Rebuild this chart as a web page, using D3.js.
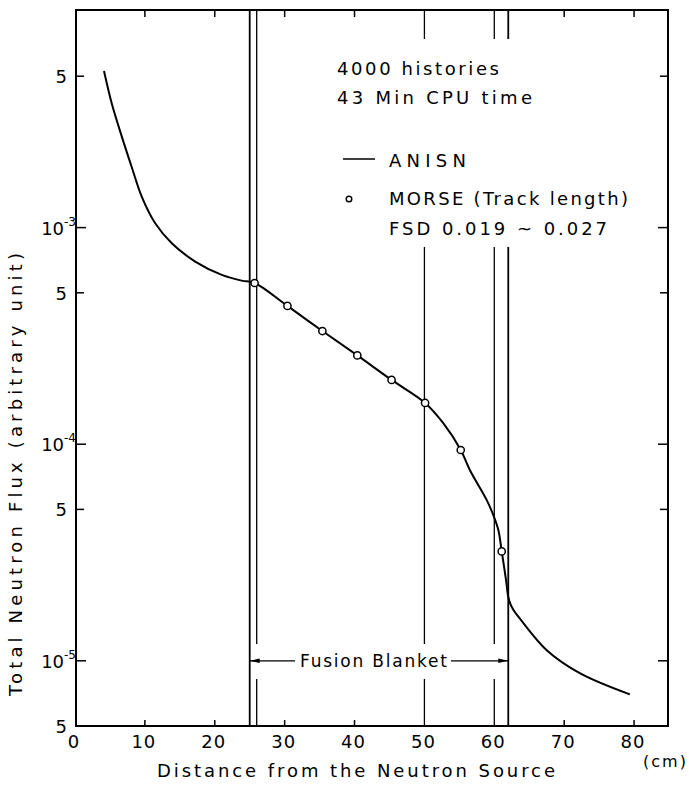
<!DOCTYPE html>
<html><head><meta charset="utf-8">
<script src="https://cdn.jsdelivr.net/npm/d3@7"></script>
<style>body{margin:0;background:#fff} svg{display:block} text{font-family:"DejaVu Sans",sans-serif;fill:#000}</style>
</head><body><svg id="c" width="689" height="790"></svg>
<script>
// ---- data ----
const anisnDistance = [4.15, 5.25, 6.7, 8.1, 9.55, 11.45, 13.85, 17.2, 21.0, 23.85, 25.7, 30.4, 35.4, 40.4, 45.3, 50.1, 52.7, 55.2, 56.5, 58.9, 59.86, 60.58, 61.06, 61.68, 62.0, 62.3, 62.72, 63.7, 67.5, 72.3, 79.4];
const anisnFlux = [5.28e-3, 3.75e-3, 2.63e-3, 1.91e-3, 1.39e-3, 1.05e-3, 8.47e-4, 6.97e-4, 6.05e-4, 5.69e-4, 5.55e-4, 4.35e-4, 3.33e-4, 2.57e-4, 1.98e-4, 1.55e-4, 1.25e-4, 9.4e-5, 7.6e-5, 5.53e-5, 4.71e-5, 4.02e-5, 3.2e-5, 2.36e-5, 1.97e-5, 1.83e-5, 1.72e-5, 1.56e-5, 1.12e-5, 8.75e-6, 7.0e-6];
const morseDistance = [25.7, 30.4, 35.4, 40.4, 45.3, 50.1, 55.2, 61.06];
const morseFlux = [5.55e-4, 4.35e-4, 3.33e-4, 2.57e-4, 1.98e-4, 1.55e-4, 9.4e-5, 3.2e-5];
const xTicks = [0, 10, 20, 30, 40, 50, 60, 70, 80];
const yTickValues = [5e-3, 1e-3, 5e-4, 1e-4, 5e-5, 1e-5, 5e-6];
const yTickMain = ["5", "10", "5", "10", "5", "10", "5"];
const yTickSup = ["", "-3", "", "-4", "", "-5", ""];
const boundaries = [25, 26, 50, 60, 62];
const blanketRange = [25, 62];
const blanketLevel = 1e-5;
const blanketLabel = "Fusion Blanket";
const infoLines = ["4000 histories", "43 Min CPU time"];
const legendLabels = ["ANISN", "MORSE (Track length)", "FSD 0.019 ~ 0.027"];
const xTitle = "Distance from the Neutron Source";
const xUnit = "(cm)";
const yTitle = "Total Neutron Flux  (arbitrary unit)";

// ---- drawing ----
const svg = d3.select("#c");
const x = d3.scaleLinear().domain([0, 85]).range([75, 669]);
const y = d3.scaleLog().domain([5e-6, 1e-2]).range([726, 11]);
const L = 76, R = 668, T = 10, B = 726;

function txt(xp, yp, s, size, opts = {}) {
  const t = svg.append("text").attr("x", xp).attr("y", yp).attr("font-size", size).text(s);
  if (opts.anchor) t.attr("text-anchor", opts.anchor);
  if (opts.len) t.attr("textLength", opts.len).attr("lengthAdjust", "spacing");
  if (opts.ls) t.attr("letter-spacing", opts.ls);
  return t;
}

// vertical boundary lines with gaps
const topGap = [39, 247], fusionGap = [644, 679];
boundaries.forEach(d => {
  let segs = [[T, B]];
  const cut = (g) => {
    const out = [];
    segs.forEach(([a, b]) => {
      if (g[1] <= a || g[0] >= b) out.push([a, b]);
      else { if (g[0] > a) out.push([a, g[0]]); if (g[1] < b) out.push([g[1], b]); }
    });
    segs = out;
  };
  if (d >= 50) cut(topGap);
  if (d > blanketRange[0] && d < blanketRange[1]) cut(fusionGap);
  segs.forEach(([a, b]) => svg.append("line").attr("x1", x(d)).attr("x2", x(d)).attr("y1", a).attr("y2", b)
    .attr("stroke", "#000").attr("stroke-width", d === 25 || d === 62 ? 1.8 : 1.3));
});

// frame
svg.append("rect").attr("x", L).attr("y", T).attr("width", R - L).attr("height", B - T)
  .attr("fill", "none").attr("stroke", "#000").attr("stroke-width", 2);

// x ticks
xTicks.filter(v => v > 0).forEach(v => {
  if (boundaries.includes(v)) return;
  svg.append("line").attr("x1", x(v)).attr("x2", x(v)).attr("y1", B).attr("y2", B - 6).attr("stroke", "#000").attr("stroke-width", 1.5);
  svg.append("line").attr("x1", x(v)).attr("x2", x(v)).attr("y1", T).attr("y2", T + 7).attr("stroke", "#000").attr("stroke-width", 1.5);
});
xTicks.forEach(v => txt(x(v) - 1, 748, String(v), 18, { anchor: "middle", ls: 1 }));

// y ticks
yTickValues.forEach((v, i) => {
  if (v <= 5e-6) return;
  const len = yTickSup[i] ? 10 : 8;
  svg.append("line").attr("x1", L).attr("x2", L + len).attr("y1", y(v)).attr("y2", y(v)).attr("stroke", "#000").attr("stroke-width", 1.5);
  svg.append("line").attr("x1", R).attr("x2", R - len).attr("y1", y(v)).attr("y2", y(v)).attr("stroke", "#000").attr("stroke-width", 1.5);
});
yTickValues.forEach((v, i) => {
  if (yTickSup[i]) {
    const t = svg.append("text").attr("x", 76).attr("y", y(v) + 7).attr("text-anchor", "end").attr("font-size", 18);
    t.append("tspan").text(yTickMain[i]);
    t.append("tspan").attr("font-size", 12).attr("dy", -9).text(yTickSup[i]);
  } else {
    txt(67, y(v) + 7, yTickMain[i], 18, { anchor: "end" });
  }
});

// ANISN curve
const pts = anisnDistance.map((d, i) => [x(d), y(anisnFlux[i])]);
svg.append("path").attr("d", d3.line().curve(d3.curveCatmullRom.alpha(0.5))(pts))
  .attr("fill", "none").attr("stroke", "#000").attr("stroke-width", 2);

// MORSE markers
morseDistance.forEach((d, i) => {
  svg.append("circle").attr("cx", x(d)).attr("cy", y(morseFlux[i])).attr("r", 3.6)
    .attr("fill", "#fff").attr("stroke", "#000").attr("stroke-width", 1.5);
});

// Fusion blanket arrow
const ya = y(blanketLevel);
const xa = x(blanketRange[0]), xb = x(blanketRange[1]);
txt(300, ya + 6.5, blanketLabel, 17, { len: 147 });
svg.append("line").attr("x1", xa).attr("x2", 295).attr("y1", ya).attr("y2", ya).attr("stroke", "#000").attr("stroke-width", 1.2);
svg.append("line").attr("x1", 451).attr("x2", xb).attr("y1", ya).attr("y2", ya).attr("stroke", "#000").attr("stroke-width", 1.2);
svg.append("path").attr("d", `M${xa},${ya}L${xa + 10},${ya - 2.2}L${xa + 10},${ya + 2.2}Z`).attr("fill", "#000");
svg.append("path").attr("d", `M${xb},${ya}L${xb - 10},${ya - 2.2}L${xb - 10},${ya + 2.2}Z`).attr("fill", "#000");

// info + legend
txt(337, 75, infoLines[0], 18, { len: 162 });
txt(337, 104, infoLines[1], 18, { len: 195 });
svg.append("line").attr("x1", 343).attr("x2", 375).attr("y1", 159).attr("y2", 159).attr("stroke", "#000").attr("stroke-width", 1.5);
txt(389, 166.5, legendLabels[0], 18, { len: 77 });
svg.append("circle").attr("cx", 349).attr("cy", 199).attr("r", 2.8).attr("fill", "#fff").attr("stroke", "#000").attr("stroke-width", 1.4);
txt(389, 205, legendLabels[1], 18, { len: 239 });
txt(389, 235, legendLabels[2], 18, { len: 218 });

// axis titles
txt(157, 777, xTitle, 18, { len: 398 });
txt(643, 767, xUnit, 16, { len: 43 });
svg.append("text").attr("transform", "translate(22,474.5) rotate(-90)").attr("text-anchor", "middle")
  .attr("font-size", 18).attr("textLength", 443).attr("lengthAdjust", "spacing").text(yTitle);
</script>
</body></html>
